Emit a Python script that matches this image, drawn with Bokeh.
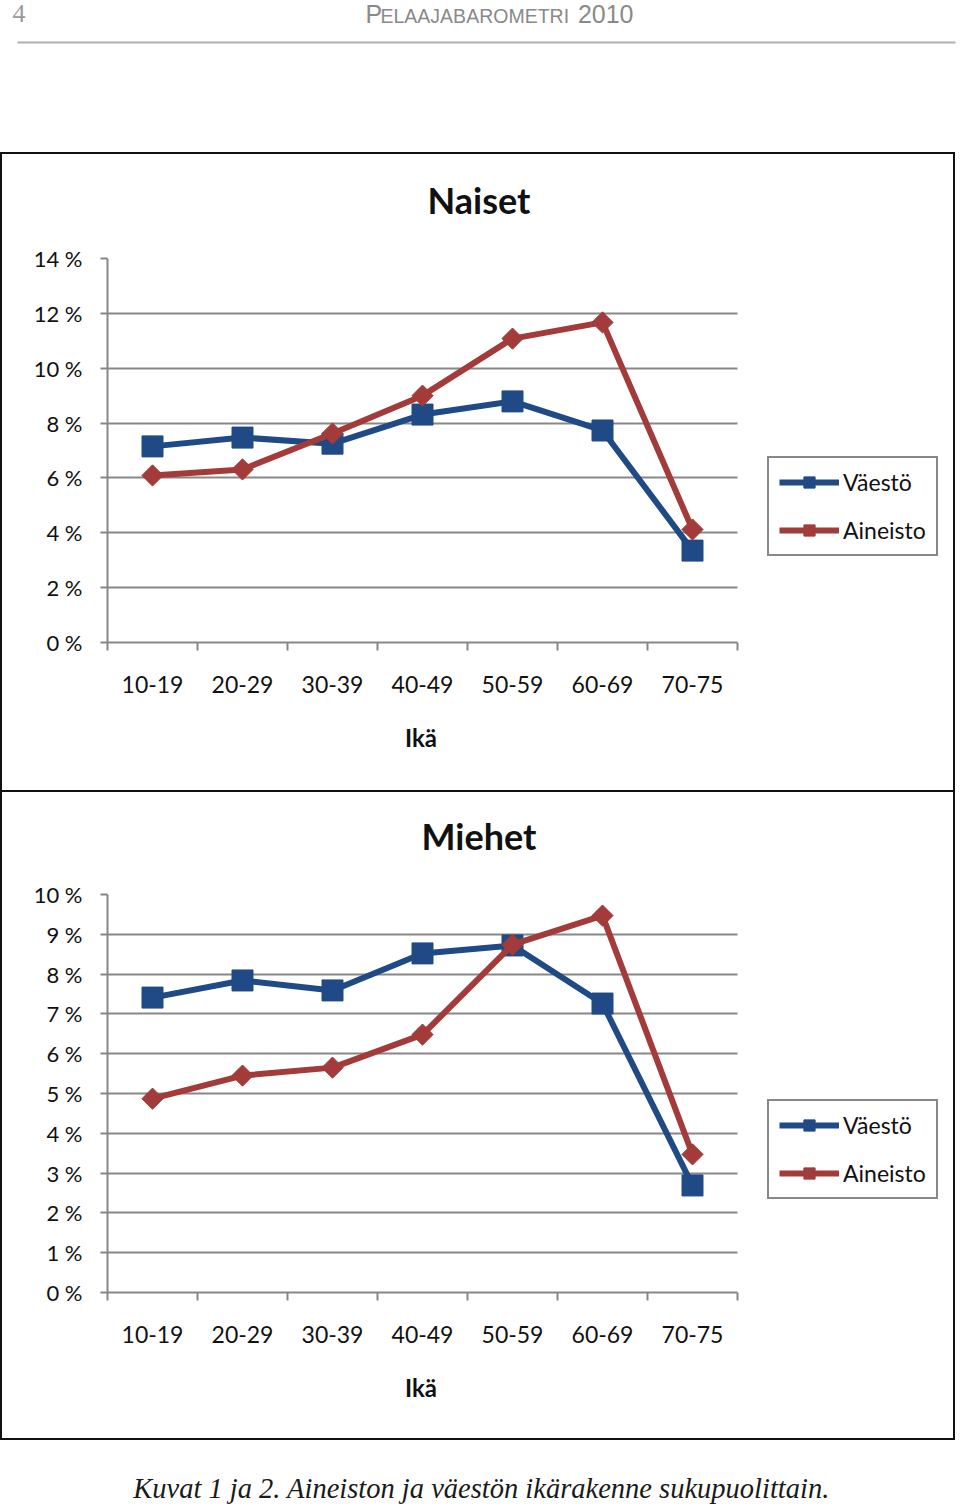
import numpy as np
from bokeh.plotting import figure
from bokeh.models import (Range1d, FixedTicker, Label, Legend, LegendItem, BoxAnnotation, Title)
from bokeh.layouts import column, row
from bokeh.embed import file_html
from bokeh.resources import INLINE

# ---------------- data ----------------
ages = ["10-19", "20-29", "30-39", "40-49", "50-59", "60-69", "70-75"]
naiset_vaesto = [7.15, 7.47, 7.25, 8.31, 8.79, 7.73, 3.35]
naiset_aineisto = [6.09, 6.31, 7.62, 9.00, 11.08, 11.67, 4.12]
miehet_vaesto = [7.41, 7.84, 7.59, 8.52, 8.72, 7.26, 2.69]
miehet_aineisto = [4.87, 5.45, 5.65, 6.48, 8.74, 9.47, 3.47]
naiset_yticks = [0, 2, 4, 6, 8, 10, 12, 14]
miehet_yticks = [0, 1, 2, 3, 4, 5, 6, 7, 8, 9, 10]
series_names = ["Väestö", "Aineisto"]
chart_titles = ["Naiset", "Miehet"]
x_title = "Ikä"
header_left = "4"
header_year = "2010"
caption = "Kuvat 1 ja 2. Aineiston ja väestön ikärakenne sukupuolittain."

# ---------------- style / layout ----------------
BLUE = "#1F4A86"
RED = "#A23B39"
GRID = "#878787"
FONT = "Lato"
CHART_W = 955
LEFT = 107          # frame left edge (px)
AXIS_W = 630        # width of the category axis (px)
FRAME_R = 950       # frame right edge (px), legend lives inside the frame


def make_chart(title, title_offset, vaesto, aineisto, yticks, height, top_border,
               legend_y, shadow, spacer_standoff):
    n = len(ages)
    xs = [i + 0.5 for i in range(n)]
    x_end = n * (FRAME_R - LEFT) / AXIS_W
    p = figure(width=CHART_W, height=height, x_range=Range1d(0, x_end),
               y_range=Range1d(yticks[0], yticks[-1]),
               output_backend="svg", toolbar_location=None,
               min_border_left=LEFT, min_border_right=CHART_W - FRAME_R,
               min_border_top=top_border, min_border_bottom=148)
    p.outline_line_color = None
    p.background_fill_color = "white"
    p.border_fill_alpha = 0
    p.styles = {"background-color": "white", "box-shadow": shadow}
    p.xgrid.grid_line_color = None
    p.ygrid.ticker = FixedTicker(ticks=yticks)
    p.ygrid.grid_line_color = GRID
    p.ygrid.grid_line_width = 2
    try:
        p.ygrid.cross_bounds = (0, n)
    except (AttributeError, ValueError):
        p.add_layout(BoxAnnotation(left=n, fill_color="white", fill_alpha=1,
                                   line_color=None, level="underlay"))

    # spacer (closest to the frame) + chart title above it
    p.add_layout(Title(text="\u00a0", text_font_size="10px", standoff=spacer_standoff,
                       text_color="white"), "above")
    p.add_layout(Title(text=title, align="left", offset=title_offset, standoff=0,
                       text_font=FONT, text_font_style="bold", text_font_size="36px",
                       text_color="#111111"), "above")

    # y axis
    ya = p.yaxis[0]
    ya.ticker = FixedTicker(ticks=yticks, minor_ticks=[])
    ya.major_label_overrides = {t: f"{t} %" for t in yticks}
    ya.axis_line_color = GRID
    ya.axis_line_width = 2
    ya.major_tick_line_color = GRID
    ya.major_tick_line_width = 2
    ya.major_tick_out = 7
    ya.major_tick_in = 0
    ya.minor_tick_line_color = None
    ya.major_label_standoff = 18
    ya.major_label_text_font = FONT
    ya.major_label_text_font_size = "22px"
    ya.major_label_text_color = "#111111"

    # x axis: labels at category centres, tick marks at boundaries
    xa = p.xaxis[0]
    xa.bounds = (0, n)
    xa.ticker = FixedTicker(ticks=xs, minor_ticks=list(range(n + 1)))
    xa.major_label_overrides = {x: a for x, a in zip(xs, ages)}
    xa.axis_line_color = GRID
    xa.axis_line_width = 2
    xa.major_tick_line_color = None
    xa.major_tick_out = 0
    xa.major_tick_in = 0
    xa.minor_tick_line_color = GRID
    xa.minor_tick_line_width = 2
    xa.minor_tick_out = 8
    xa.minor_tick_in = 0
    xa.major_label_standoff = 25
    xa.major_label_text_font = FONT
    xa.major_label_text_font_size = "23px"
    xa.major_label_text_color = "#111111"

    # axis title, centred under the category axis
    p.add_layout(Title(text=x_title, align="left", offset=AXIS_W / 2 - 17.5, standoff=50,
                       text_font=FONT, text_font_style="bold", text_font_size="24px",
                       text_color="#111111"), "below")

    l1 = p.line(xs, vaesto, line_color=BLUE, line_width=6)
    m1 = p.scatter(xs, vaesto, marker="square", size=21, fill_color=BLUE, line_color=BLUE)
    l2 = p.line(xs, aineisto, line_color=RED, line_width=6)
    m2 = p.scatter(xs, aineisto, marker="square", angle=np.pi / 4, size=15,
                   fill_color=RED, line_color=RED)

    legend = Legend(items=[LegendItem(label=series_names[0], renderers=[l1, m1]),
                           LegendItem(label=series_names[1], renderers=[l2, m2])],
                    location=(660, legend_y), orientation="vertical",
                    border_line_color="#111111", border_line_width=2,
                    background_fill_color="white", background_fill_alpha=1,
                    label_text_font=FONT, label_text_font_size="23px",
                    label_text_color="#111111",
                    glyph_width=60, glyph_height=28, label_height=28,
                    label_standoff=4, padding=10, spacing=20, margin=0)
    p.add_layout(legend)
    return p


def make_band(height):
    p = figure(width=960, height=height, x_range=Range1d(0, 960), y_range=Range1d(height, 0),
               output_backend="svg", toolbar_location=None,
               min_border=0, min_border_left=0, min_border_right=0,
               min_border_top=0, min_border_bottom=0)
    p.axis.visible = False
    p.grid.visible = False
    p.outline_line_color = None
    p.background_fill_color = "white"
    p.border_fill_color = "white"
    return p


# header band
header = make_band(152)
header.add_layout(Label(x=12, y=13, text=header_left, text_font="Liberation Serif",
                        text_font_size="26px", text_color="#9a9a9a",
                        text_baseline="middle", text_align="left"))
header.add_layout(Label(x=365, y=13, text="P", text_font="Liberation Sans",
                        text_font_size="25px", text_color="#8a8a8a",
                        text_baseline="middle", text_align="left"))
header.add_layout(Label(x=380, y=15, text="ELAAJABAROMETRI", text_font="Liberation Sans",
                        text_font_size="19.5px", text_color="#8a8a8a",
                        text_baseline="middle", text_align="left"))
header.add_layout(Label(x=633, y=13, text=header_year, text_font="Liberation Sans",
                        text_font_size="25px", text_color="#8a8a8a",
                        text_baseline="middle", text_align="right"))
header.segment(x0=[17], y0=[42], x1=[955], y1=[42], line_color="#b0b0b0", line_width=2)

# charts
shadow1 = "inset 0 2px 0 0 #111111, inset 2px 0 0 0 #111111, inset -2px 0 0 0 #111111"
shadow2 = shadow1 + ", inset 0 -2px 0 0 #111111"
c1 = make_chart(chart_titles[0], 320, naiset_vaesto, naiset_aineisto, naiset_yticks,
                height=638, top_border=106, legend_y=86, shadow=shadow1, spacer_standoff=24)
c2 = make_chart(chart_titles[1], 314, miehet_vaesto, miehet_aineisto, miehet_yticks,
                height=650, top_border=104, legend_y=93, shadow=shadow2, spacer_standoff=24)

# caption band
cap = make_band(68)
cap.add_layout(Label(x=481, y=48, text=caption, text_font="Liberation Serif",
                     text_font_style="italic", text_font_size="28.5px",
                     text_color="#1a1a1a", text_align="center", text_baseline="middle"))

layout = column(row(header), c1, c2, row(cap), spacing=0)
open("out.html", "w").write(file_html(layout, INLINE))
